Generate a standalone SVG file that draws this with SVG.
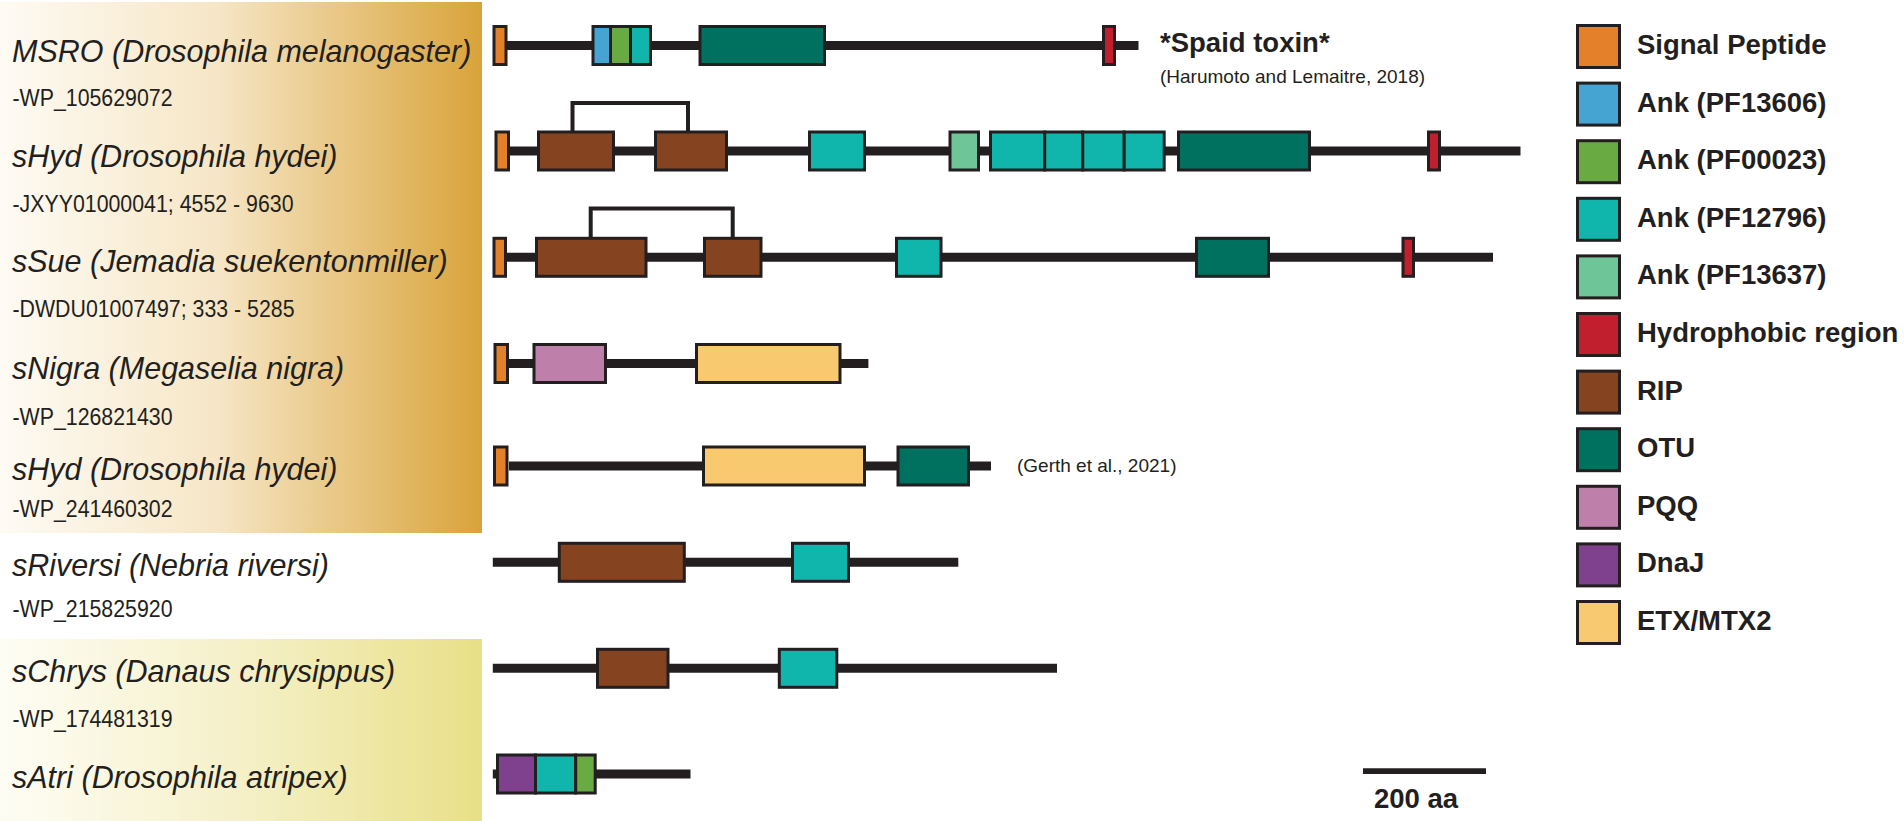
<svg xmlns="http://www.w3.org/2000/svg" width="1904" height="821" viewBox="0 0 1904 821">
<defs>
<linearGradient id="gold" x1="0" y1="0" x2="1" y2="0">
<stop offset="0" stop-color="#fefbf4"/>
<stop offset="0.45" stop-color="#f6e6c6"/>
<stop offset="1" stop-color="#d9a33a"/>
</linearGradient>
<linearGradient id="yel" x1="0" y1="0" x2="1" y2="0">
<stop offset="0" stop-color="#fefdf4"/>
<stop offset="0.5" stop-color="#f5f0c8"/>
<stop offset="1" stop-color="#e8e087"/>
</linearGradient>
</defs>
<style>
.bar{stroke:#231f20;stroke-width:9;stroke-linecap:butt;fill:none}
.d{stroke:#231f20;stroke-width:3}
.br{stroke:#231f20;stroke-width:4;fill:none}
.sp{fill:#e4802a}.a1{fill:#46a4d2}.a2{fill:#6aaa42}.a3{fill:#10b5ac}.a4{fill:#6ec597}
.hy{fill:#c11f2e}.rip{fill:#854320}.otu{fill:#00705f}.pqq{fill:#be80ab}.dna{fill:#7f418e}.etx{fill:#f8c96f}
.nm{font-family:"Liberation Sans",Arial,sans-serif;font-style:italic;font-size:30.5px;fill:#231f20}
.acc{font-family:"Liberation Sans",Arial,sans-serif;font-size:23px;fill:#231f20}
.cit{font-family:"Liberation Sans",Arial,sans-serif;font-size:19px;fill:#231f20}
.lg{font-family:"Liberation Sans",Arial,sans-serif;font-weight:bold;font-size:27.5px;fill:#231f20}
</style>
<rect x="0" y="2" width="482" height="531" fill="url(#gold)"/>
<rect x="0" y="639" width="482" height="182" fill="url(#yel)"/>

<g id="connectors">
<path class="br" d="M572.5 132 V103 H688 V132"/>
<path class="br" d="M590.7 238 V208.5 H732.7 V238"/>
</g>

<g id="row-msro">
<text class="nm" x="12" y="61.7">MSRO (Drosophila melanogaster)</text>
<text class="acc" x="12.5" y="106" textLength="160" lengthAdjust="spacingAndGlyphs">-WP_105629072</text>
<line class="bar" x1="507" y1="45.5" x2="1138.5" y2="45.5"/>
<rect class="d sp" x="494" y="26.5" width="12" height="38"/>
<rect class="d a1" x="593" y="26.5" width="17.5" height="38"/>
<rect class="d a2" x="610.5" y="26.5" width="20" height="38"/>
<rect class="d a3" x="630.5" y="26.5" width="20" height="38"/>
<rect class="d otu" x="700" y="26.5" width="124.5" height="38"/>
<rect class="d hy" x="1103.5" y="26.5" width="11" height="38"/>
<text class="lg" x="1160" y="52" font-size="27">*Spaid toxin*</text>
<text class="cit" x="1160" y="83">(Harumoto and Lemaitre, 2018)</text>
</g>

<g id="row-shyd1">
<text class="nm" x="12" y="166.5">sHyd (Drosophila hydei)</text>
<text class="acc" x="12.5" y="212" textLength="281" lengthAdjust="spacingAndGlyphs">-JXYY01000041; 4552 - 9630</text>
<line class="bar" x1="510" y1="151" x2="1520.5" y2="151"/>
<rect class="d sp" x="496" y="132" width="12.5" height="38"/>
<rect class="d rip" x="538.5" y="132" width="75" height="38"/>
<rect class="d rip" x="655.5" y="132" width="71" height="38"/>
<rect class="d a3" x="809.5" y="132" width="55" height="38"/>
<rect class="d a4" x="950" y="132" width="28.5" height="38"/>
<rect class="d a3" x="990.5" y="132" width="54.2" height="38"/>
<rect class="d a3" x="1044.7" y="132" width="38" height="38"/>
<rect class="d a3" x="1082.7" y="132" width="41.5" height="38"/>
<rect class="d a3" x="1124.2" y="132" width="40" height="38"/>
<rect class="d otu" x="1178.5" y="132" width="131" height="38"/>
<rect class="d hy" x="1428.5" y="132" width="11" height="38"/>
</g>

<g id="row-ssue">
<text class="nm" x="12" y="271.5">sSue (Jemadia suekentonmiller)</text>
<text class="acc" x="12.5" y="316.5" textLength="282" lengthAdjust="spacingAndGlyphs">-DWDU01007497; 333 - 5285</text>
<line class="bar" x1="506.8" y1="257.3" x2="1493" y2="257.3"/>
<rect class="d sp" x="494" y="238.3" width="11.5" height="38"/>
<rect class="d rip" x="536.5" y="238.3" width="109.5" height="38"/>
<rect class="d rip" x="704.5" y="238.3" width="56.5" height="38"/>
<rect class="d a3" x="896.5" y="238.3" width="44.5" height="38"/>
<rect class="d otu" x="1196.5" y="238.3" width="72" height="38"/>
<rect class="d hy" x="1403" y="238.3" width="10.5" height="38"/>
</g>

<g id="row-snigra">
<text class="nm" x="12" y="379">sNigra (Megaselia nigra)</text>
<text class="acc" x="12.5" y="425" textLength="160" lengthAdjust="spacingAndGlyphs">-WP_126821430</text>
<line class="bar" x1="509" y1="363.5" x2="868.4" y2="363.5"/>
<rect class="d sp" x="495" y="344.5" width="12.5" height="38"/>
<rect class="d pqq" x="534" y="344.5" width="71.5" height="38"/>
<rect class="d etx" x="696.5" y="344.5" width="143.5" height="38"/>
</g>

<g id="row-shyd2">
<text class="nm" x="12" y="480">sHyd (Drosophila hydei)</text>
<text class="acc" x="12.5" y="517.3" textLength="160" lengthAdjust="spacingAndGlyphs">-WP_241460302</text>
<line class="bar" x1="509" y1="466" x2="991" y2="466"/>
<rect class="d sp" x="494.5" y="447" width="12.5" height="38"/>
<rect class="d etx" x="703.5" y="447" width="161" height="38"/>
<rect class="d otu" x="898" y="447" width="70.5" height="38"/>
<text class="cit" x="1017" y="472">(Gerth et al., 2021)</text>
</g>

<g id="row-sriversi">
<text class="nm" x="12" y="576">sRiversi (Nebria riversi)</text>
<text class="acc" x="12.5" y="617.3" textLength="160" lengthAdjust="spacingAndGlyphs">-WP_215825920</text>
<line class="bar" x1="492.8" y1="562.3" x2="958.3" y2="562.3"/>
<rect class="d rip" x="559.3" y="543.3" width="125" height="38"/>
<rect class="d a3" x="792.5" y="543.3" width="56" height="38"/>
</g>

<g id="row-schrys">
<text class="nm" x="12" y="681.7">sChrys (Danaus chrysippus)</text>
<text class="acc" x="12.5" y="727.3" textLength="160" lengthAdjust="spacingAndGlyphs">-WP_174481319</text>
<line class="bar" x1="492.8" y1="668.3" x2="1057" y2="668.3"/>
<rect class="d rip" x="597.5" y="649.3" width="70.5" height="38"/>
<rect class="d a3" x="779.3" y="649.3" width="57.5" height="38"/>
</g>

<g id="row-satri">
<text class="nm" x="12" y="788.3">sAtri (Drosophila atripex)</text>
<line class="bar" x1="492.8" y1="774" x2="690.5" y2="774"/>
<rect class="d dna" x="497.5" y="755" width="38" height="38"/>
<rect class="d a3" x="535.5" y="755" width="40.2" height="38"/>
<rect class="d a2" x="575.7" y="755" width="19.5" height="38"/>
</g>

<g id="scale">
<line x1="1363" y1="771.2" x2="1486" y2="771.2" stroke="#231f20" stroke-width="5.7"/>
<text class="lg" x="1374" y="807.5" font-size="30">200 aa</text>
</g>

<g id="legend">
<rect class="d sp" x="1577.5" y="25.5" width="42" height="42"/><text class="lg" x="1637" y="54">Signal Peptide</text>
<rect class="d a1" x="1577.5" y="83.1" width="42" height="42"/><text class="lg" x="1637" y="111.6">Ank (PF13606)</text>
<rect class="d a2" x="1577.5" y="140.7" width="42" height="42"/><text class="lg" x="1637" y="169.2">Ank (PF00023)</text>
<rect class="d a3" x="1577.5" y="198.3" width="42" height="42"/><text class="lg" x="1637" y="226.8">Ank (PF12796)</text>
<rect class="d a4" x="1577.5" y="255.9" width="42" height="42"/><text class="lg" x="1637" y="284.4">Ank (PF13637)</text>
<rect class="d hy" x="1577.5" y="313.5" width="42" height="42"/><text class="lg" x="1637" y="342">Hydrophobic region</text>
<rect class="d rip" x="1577.5" y="371.1" width="42" height="42"/><text class="lg" x="1637" y="399.6">RIP</text>
<rect class="d otu" x="1577.5" y="428.7" width="42" height="42"/><text class="lg" x="1637" y="457.2">OTU</text>
<rect class="d pqq" x="1577.5" y="486.3" width="42" height="42"/><text class="lg" x="1637" y="514.8">PQQ</text>
<rect class="d dna" x="1577.5" y="543.9" width="42" height="42"/><text class="lg" x="1637" y="572.4">DnaJ</text>
<rect class="d etx" x="1577.5" y="601.5" width="42" height="42"/><text class="lg" x="1637" y="630">ETX/MTX2</text>
</g>
</svg>
